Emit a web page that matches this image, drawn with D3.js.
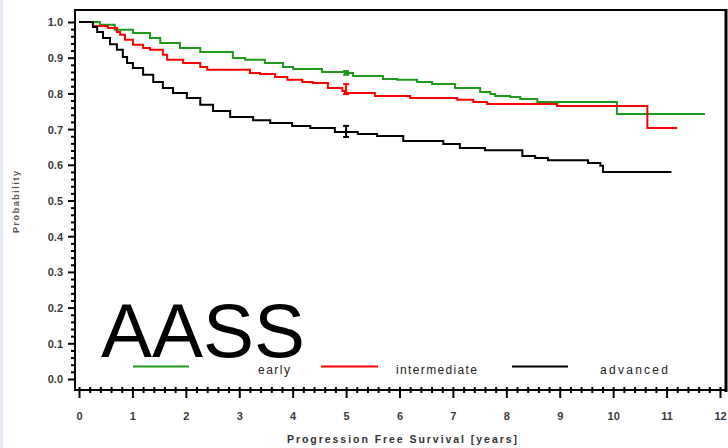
<!DOCTYPE html>
<html><head><meta charset="utf-8">
<script src="https://cdn.jsdelivr.net/npm/d3@7"></script>
<style>body{margin:0;background:#fff;}svg{display:block;}</style>
</head><body>
<script>
// ---- data ----
const seriesNames = ["early", "intermediate", "advanced"];
const seriesColors = ["#1f9a1f", "#ff0000", "#000000"];
// [years, survival probability] step points
const earlyT = [0,0.20,0.39,0.67,1.01,1.33,1.52,1.89,2.27,2.88,3.11,3.48,3.82,4.01,4.55,4.98,5.13,5.69,5.96,6.33,6.61,7.04,7.51,7.70,7.79,8.07,8.26,8.58,10.07,11.72];
const earlyP = [1.0,1.0,0.992,0.978,0.969,0.955,0.941,0.927,0.916,0.899,0.894,0.885,0.874,0.868,0.860,0.857,0.849,0.840,0.838,0.832,0.826,0.815,0.804,0.798,0.793,0.790,0.784,0.776,0.742,0.742];
const interT = [0,0.26,0.54,0.71,0.77,0.86,1.01,1.20,1.33,1.57,1.65,1.95,2.27,2.40,3.20,3.39,3.67,3.90,4.18,4.38,4.66,4.93,4.98,5.54,6.20,7.08,7.38,7.64,8.95,10.64,11.20];
const interP = [1.0,0.989,0.983,0.972,0.964,0.950,0.936,0.927,0.922,0.908,0.894,0.885,0.874,0.866,0.857,0.854,0.846,0.838,0.832,0.829,0.815,0.807,0.801,0.793,0.787,0.782,0.776,0.770,0.765,0.703,0.703];
const advT = [0,0.26,0.34,0.45,0.58,0.71,0.82,0.90,1.01,1.20,1.39,1.57,1.76,2.02,2.27,2.51,2.83,3.26,3.58,3.99,4.33,4.79,5.22,5.58,6.07,6.82,7.13,7.60,8.30,8.54,8.78,9.53,9.76,9.81,11.09];
const advP = [1.0,0.986,0.972,0.955,0.938,0.922,0.902,0.885,0.871,0.852,0.832,0.815,0.801,0.787,0.768,0.751,0.734,0.725,0.717,0.709,0.703,0.692,0.686,0.681,0.667,0.658,0.647,0.641,0.625,0.619,0.613,0.605,0.597,0.580,0.580];
// confidence bars at 5 years
const ciTime = 5;
const ciLow = [0.852, 0.798, 0.678];
const ciHigh = [0.863, 0.826, 0.709];
const xTicks = [0,1,2,3,4,5,6,7,8,9,10,11,12];
const yTicks = [0.0,0.1,0.2,0.3,0.4,0.5,0.6,0.7,0.8,0.9,1.0];
const xTitle = "Progression Free Survival [years]";
const yTitle = "Probability";
const stamp = "AASS";

const W = 728, H = 448;
const svg = d3.select("body").append("svg").attr("width", W).attr("height", H);
svg.append("rect").attr("x",0).attr("y",0).attr("width",3).attr("height",H).attr("fill","#e4ecf7");

const x = d3.scaleLinear().domain([0,12]).range([79,720]);
const y = d3.scaleLinear().domain([0,1]).range([379,22]);

const axisLeft = 75, axisBottom = 390, frameTop = 10, frameRight = 726;
const font = "Liberation Sans, Arial, sans-serif";

// frame
svg.append("line").attr("x1",axisLeft-1).attr("x2",frameRight+1).attr("y1",frameTop).attr("y2",frameTop).attr("stroke","#000").attr("stroke-width",2);
svg.append("line").attr("x1",frameRight).attr("x2",frameRight).attr("y1",frameTop-1).attr("y2",axisBottom+2).attr("stroke","#000").attr("stroke-width",3);

// y axis
const yAxis = d3.axisLeft(y).tickValues(yTicks).tickFormat(d3.format(".1f")).tickSize(7).tickPadding(5);
const gy = svg.append("g").attr("transform",`translate(${axisLeft},0)`).call(yAxis);
gy.select(".domain").remove();
gy.selectAll(".tick line").attr("stroke","#000").attr("stroke-width",2);
gy.selectAll(".tick text").attr("font-family",font).attr("font-size",11).attr("font-weight","bold").attr("fill","#3a3a3a").attr("dy","0.36em");
const yMinor = d3.range(0,1.0001,0.02).filter(v => Math.abs(v*10 - Math.round(v*10))>1e-6);
const gym = svg.append("g").attr("transform",`translate(${axisLeft},0)`).call(d3.axisLeft(y).tickValues(yMinor).tickSize(4).tickFormat(""));
gym.select(".domain").remove();
gym.selectAll(".tick line").attr("stroke","#000").attr("stroke-width",2);
svg.append("line").attr("x1",axisLeft).attr("x2",axisLeft).attr("y1",frameTop-1).attr("y2",axisBottom+1).attr("stroke","#000").attr("stroke-width",2);

// x axis
const xAxis = d3.axisBottom(x).tickValues(xTicks).tickFormat(d3.format("d")).tickSize(8).tickPadding(14);
const gx = svg.append("g").attr("transform",`translate(0,${axisBottom})`).call(xAxis);
gx.select(".domain").remove();
gx.selectAll(".tick line").attr("stroke","#000").attr("stroke-width",2).attr("y1",-3);
gx.selectAll(".tick text").attr("font-family",font).attr("font-size",11).attr("font-weight","bold").attr("fill","#3a3a3a");
const xMinor = d3.range(0,12.0001,0.2).filter(v => Math.abs(v - Math.round(v))>1e-6);
const gxm = svg.append("g").attr("transform",`translate(0,${axisBottom})`).call(d3.axisBottom(x).tickValues(xMinor).tickSize(3).tickFormat(""));
gxm.select(".domain").remove();
gxm.selectAll(".tick line").attr("stroke","#000").attr("stroke-width",2).attr("y1",-3);
svg.append("line").attr("x1",axisLeft-1).attr("x2",frameRight).attr("y1",axisBottom).attr("y2",axisBottom).attr("stroke","#000").attr("stroke-width",2);

// titles
svg.append("text").attr("x",402).attr("y",443).attr("text-anchor","middle")
  .attr("font-family",font).attr("font-size",10.5).attr("font-weight","bold").attr("fill","#333")
  .attr("textLength",230).attr("lengthAdjust","spacing").text(xTitle);
svg.append("text").attr("transform","translate(19,202) rotate(-90)").attr("text-anchor","middle")
  .attr("font-family",font).attr("font-size",9).attr("font-weight","bold").attr("fill","#555")
  .attr("textLength",62).attr("lengthAdjust","spacing").text(yTitle);

// curves
const data = [d3.zip(earlyT, earlyP), d3.zip(interT, interP), d3.zip(advT, advP)];
const line = d3.line().x(d => x(d[0])).y(d => y(d[1])).curve(d3.curveStepAfter);
data.forEach((s,i) => {
  svg.append("path").attr("d", line(s)).attr("fill","none").attr("stroke",seriesColors[i]).attr("stroke-width",2);
});
// CI bars
seriesNames.forEach((n,i) => {
  const g = svg.append("g").attr("stroke",seriesColors[i]).attr("stroke-width",2);
  const cx = x(ciTime);
  g.append("line").attr("x1",cx).attr("x2",cx).attr("y1",y(ciLow[i])).attr("y2",y(ciHigh[i]));
  g.append("line").attr("x1",cx-3).attr("x2",cx+3).attr("y1",y(ciLow[i])).attr("y2",y(ciLow[i]));
  g.append("line").attr("x1",cx-3).attr("x2",cx+3).attr("y1",y(ciHigh[i])).attr("y2",y(ciHigh[i]));
});

// stamp
svg.append("text").attr("x",101).attr("y",357).attr("font-family",font)
  .attr("font-size",76).attr("fill","#000").attr("textLength",204).attr("lengthAdjust","spacingAndGlyphs").text(stamp);

// legend
const legLines = [[133,189],[321,378],[512,568]];
const legText = [[258,32],[396,81],[600,68]];
seriesNames.forEach((n,i) => {
  svg.append("line").attr("x1",legLines[i][0]).attr("x2",legLines[i][1]).attr("y1",366.5).attr("y2",366.5)
    .attr("stroke",seriesColors[i]).attr("stroke-width",2);
  svg.append("text").attr("x",legText[i][0]).attr("y",374).attr("font-family",font)
    .attr("font-size",12).attr("fill","#222").attr("textLength",legText[i][1]).attr("lengthAdjust","spacing").text(n);
});
</script>
</body></html>
